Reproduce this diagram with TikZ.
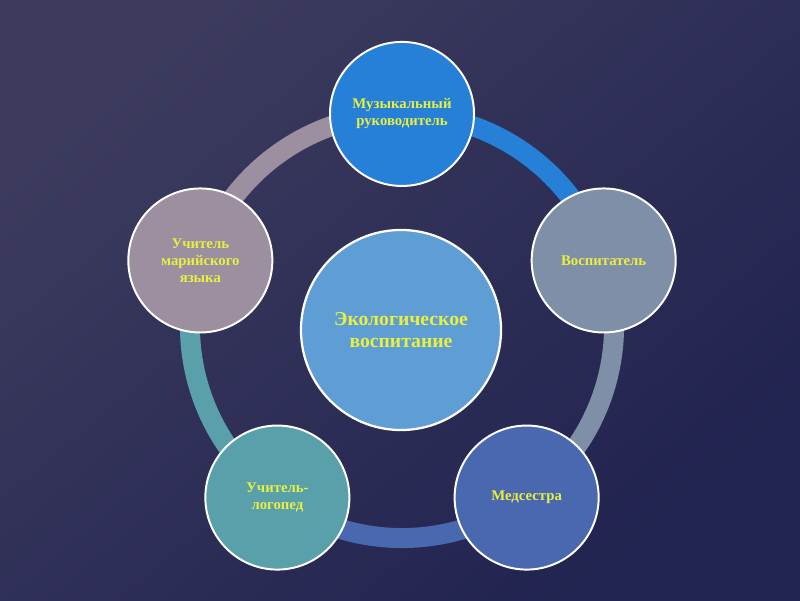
\documentclass[tikz,border=0pt]{standalone}
\usepackage{fontspec}
\setmainfont{Liberation Serif}
\definecolor{bgA}{RGB}{60,59,94}
\definecolor{bgB}{RGB}{33,35,80}
\definecolor{cTop}{RGB}{38,128,216}
\definecolor{cRight}{RGB}{128,143,168}
\definecolor{cBR}{RGB}{74,104,176}
\definecolor{cBL}{RGB}{90,160,170}
\definecolor{cLeft}{RGB}{155,143,160}
\definecolor{cCenter}{RGB}{94,158,212}
\definecolor{txt}{RGB}{232,240,64}
\tikzset{
  bubble/.style={circle,draw=white,line width=1.4pt,minimum size=3.6cm,inner sep=0pt,
    align=center,text=txt,font=\bfseries\fontsize{10.5}{12}\selectfont},
  hub/.style={circle,draw=white,line width=1.6pt,minimum size=5.0cm,inner sep=0pt,
    align=center,text=txt,font=\bfseries\fontsize{14}{16}\selectfont},
  ringarc/.style={line width=0.5cm}
}
\begin{document}
\begin{tikzpicture}[x=0.025cm,y=0.025cm]
\shade[top color=bgA,bottom color=bgB,shading angle=40] (0,0) rectangle (800,600);
\useasboundingbox (0,0) rectangle (800,600);
\coordinate (C) at (402,274);
\path (C) ++(90:5.3cm) coordinate (pT)
      (C) ++(18:5.3cm) coordinate (pR)
      (C) ++(-54:5.3cm) coordinate (pBR)
      (C) ++(-126:5.3cm) coordinate (pBL)
      (C) ++(162:5.3cm) coordinate (pL);
\draw[ringarc,cTop] (pT) arc[start angle=90,end angle=18,radius=5.3cm];
\draw[ringarc,cRight] (pR) arc[start angle=18,end angle=-54,radius=5.3cm];
\draw[ringarc,cBR] (pBR) arc[start angle=-54,end angle=-126,radius=5.3cm];
\draw[ringarc,cBL] (pBL) arc[start angle=-126,end angle=-198,radius=5.3cm];
\draw[ringarc,cLeft] (pL) arc[start angle=162,end angle=90,radius=5.3cm];
\node[hub,fill=cCenter] (center) at (401,270) {Экологическое\\воспитание};
\node[bubble,fill=cTop] (top) at (pT) {Музыкальный\\руководитель};
\node[bubble,fill=cRight] (right) at (pR) {Воспитатель};
\node[bubble,fill=cBR] (br) at (pBR) {Медсестра};
\node[bubble,fill=cBL] (bl) at (pBL) {Учитель-\\логопед};
\node[bubble,fill=cLeft] (left) at (pL) {Учитель\\марийского\\языка};
\end{tikzpicture}
\end{document}
